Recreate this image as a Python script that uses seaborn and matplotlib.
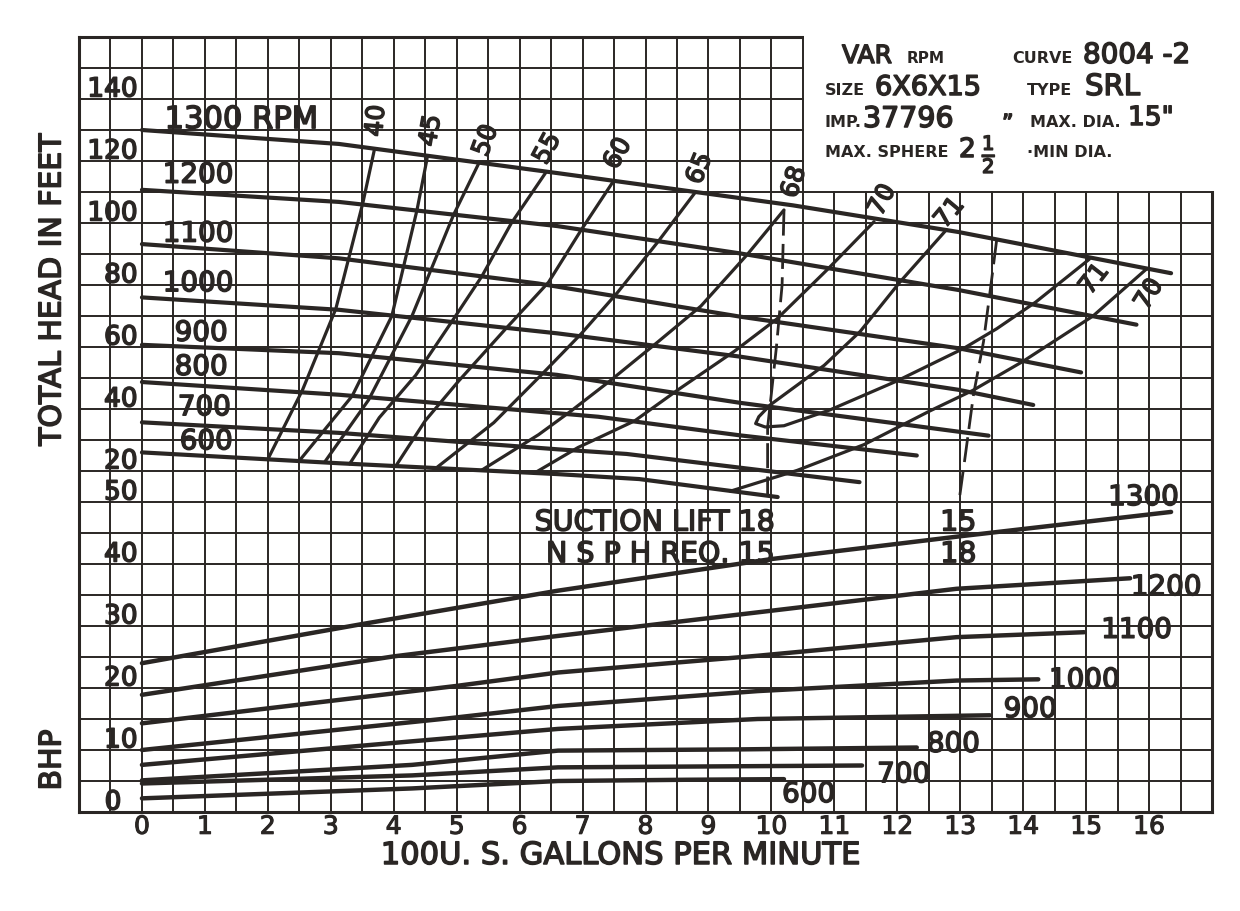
import matplotlib
matplotlib.use("Agg")
import matplotlib.pyplot as plt
import matplotlib.patheffects as pe
from matplotlib.patches import Rectangle
import numpy as np
import seaborn as sns

# ---------------- data ----------------
gpm_ticks = list(range(0, 17))
head_tick_values = [20, 40, 60, 80, 100, 120, 140]
bhp_tick_values = [0, 10, 20, 30, 40, 50]

# head-capacity curves (x: 100 US GPM, y: total head ft)
q_1300 = [0, 3.13, 6.6, 10.34, 12.97, 16.35]
h_1300 = [130, 125.5, 116.1, 105.7, 97.1, 83.8]
q_1200 = [0, 3.13, 6.6, 9.5, 12.97, 15.8]
h_1200 = [110.7, 106.8, 99.0, 90.2, 78.4, 67.2]
q_1100 = [0, 3.13, 6.29, 9.5, 12.97, 14.92]
h_1100 = [93.2, 88.6, 80.5, 69.8, 59.6, 51.8]
q_1000 = [0, 3.13, 6.6, 9.5, 12.97, 14.16]
h_1000 = [76.0, 72.0, 64.4, 56.9, 46.2, 41.3]
q_900 = [0, 3.13, 6.6, 9.5, 13.45]
h_900 = [60.7, 58.0, 51.0, 42.0, 31.4]
q_800 = [0, 3.13, 7.25, 9.5, 12.31]
h_800 = [48.7, 44.6, 37.5, 31.5, 25.0]
q_700 = [0, 3.13, 6.6, 7.7, 11.4]
h_700 = [35.7, 32.3, 27.0, 25.5, 16.4]
q_600 = [0, 3.13, 6.6, 7.9, 10.1]
h_600 = [26.0, 22.5, 19.0, 17.4, 11.6]

# iso-efficiency curves (percent)
e40_q = [3.69, 3.51, 3.08, 2.55, 2.0]
e40_h = [123.4, 106.5, 72.3, 46.1, 23.8]
e45_q = [4.53, 4.37, 3.97, 3.34, 2.5]
e45_h = [120.8, 104.2, 70.0, 44.2, 23.3]
e50_q = [5.35, 4.95, 4.29, 3.6, 2.9]
e50_h = [119.2, 102.6, 70.0, 42.9, 22.8]
e55_q = [6.42, 5.87, 5.4, 4.92, 4.35, 3.77, 3.3]
e55_h = [116.4, 100.0, 82.8, 68.1, 50.9, 37.2, 22.3]
e60_q = [7.5, 6.98, 6.46, 5.78, 5.03, 4.5, 4.03]
e60_h = [113.8, 97.8, 80.9, 65.9, 49.0, 36.2, 21.5]
e65_q = [8.78, 8.2, 7.56, 6.98, 6.34, 5.59, 4.67]
e65_h = [109.6, 94.0, 77.7, 64.3, 50.9, 35.6, 20.9]
e68_q = [10.2, 9.62, 8.88, 8.2, 7.45, 6.82, 6.3, 5.4]
e68_h = [104.2, 89.9, 73.2, 61.7, 49.3, 39.4, 31.7, 20.3]
e70l_q = [11.63, 10.89, 10.09, 9.41, 8.51, 7.83, 6.93, 6.25]
e70l_h = [100.4, 85.0, 69.1, 58.6, 46.1, 36.2, 27.6, 19.5]
e71_q = [12.78, 12.04, 11.41, 10.84, 9.98, 9.8, 9.75, 9.9, 10.2,
         10.93, 11.99, 13.05, 13.58, 14.2, 15.05]
e71_h = [97.8, 80.9, 65.0, 54.1, 41.3, 37.5, 35.3, 34.2, 34.6,
         39.7, 49.0, 59.5, 65.9, 74.5, 88.3]
e70r_q = [9.35, 10.41, 11.47, 12.52, 13.2, 14.0, 15.11, 15.95]
e70r_h = [13.5, 20.2, 28.5, 39.4, 46.0, 55.4, 70.0, 85.0]

# suction-lift / NPSH dashed lines
npsh18_q = [10.2, 10.17, 10.08, 10.0, 9.94, 9.94]
npsh18_h = [104.0, 80.0, 60.0, 45.0, 34.0, 12.0]
npsh15_q = [13.58, 13.5, 13.37, 13.21, 13.07, 12.99]
npsh15_h = [94.7, 81.9, 61.7, 44.5, 23.4, 11.6]

# brake horsepower curves
bq_1300 = [0, 3.49, 6.61, 10.0, 12.94, 16.35]
bhp_1300 = [24.0, 30.3, 35.7, 40.8, 44.4, 48.4]
bq_1200 = [0, 4.0, 6.61, 9.78, 12.94, 15.7]
bhp_1200 = [18.9, 25.1, 28.4, 32.2, 36.0, 37.7]
bq_1100 = [0, 4.97, 6.61, 9.78, 12.94, 14.97]
bhp_1100 = [14.3, 20.3, 22.5, 25.2, 28.2, 29.0]
bq_1000 = [0, 4.86, 6.61, 9.78, 12.94, 14.24]
bhp_1000 = [10.0, 15.1, 17.1, 19.5, 21.2, 21.4]
bq_900 = [0, 4.29, 6.61, 9.78, 13.47]
bhp_900 = [7.6, 11.4, 13.4, 15.0, 15.6]
bq_800 = [0, 4.29, 6.61, 9.5, 12.31]
bhp_800 = [5.1, 7.6, 9.9, 10.1, 10.4]
bq_700 = [0, 4.29, 6.61, 11.44]
bhp_700 = [4.6, 5.9, 7.2, 7.5]
bq_600 = [0, 4.29, 6.61, 8.65, 10.2]
bhp_600 = [2.2, 3.8, 5.0, 5.2, 5.3]

# ---------------- drawing ----------------
INK = "#2a2624"
sns.set_theme(style="white")
plt.rcParams["font.family"] = ["DejaVu Sans"]
plt.rcParams["text.color"] = INK

W, H = 1240, 911
fig = plt.figure(figsize=(W / 100, H / 100), dpi=100, facecolor="white")
L, R, B, T = 79, 1212, 812, 37
ax = fig.add_axes([L / W, 1 - B / H, (R - L) / W, (B - T) / H])
ax.set_facecolor("white")
axh = ax.twinx()

heavy = [pe.withStroke(linewidth=1.1, foreground=INK)]


def curve(axis, q, v, lw=2.9, **kw):
    sns.lineplot(x=q, y=v, ax=axis, color=INK, linewidth=lw, sort=False,
                 estimator=None, solid_capstyle="round",
                 solid_joinstyle="round", **kw)


# head curves
for q, h in [(q_1300, h_1300), (q_1200, h_1200), (q_1100, h_1100),
             (q_1000, h_1000), (q_900, h_900), (q_800, h_800),
             (q_700, h_700), (q_600, h_600)]:
    curve(axh, q, h, lw=3.0)

# efficiency curves
for q, h in [(e40_q, e40_h), (e45_q, e45_h), (e50_q, e50_h), (e55_q, e55_h),
             (e60_q, e60_h), (e65_q, e65_h), (e68_q, e68_h),
             (e70l_q, e70l_h), (e71_q, e71_h), (e70r_q, e70r_h)]:
    curve(axh, q, h, lw=2.3)

# dashed NPSH lines
for q, h in [(npsh18_q, npsh18_h), (npsh15_q, npsh15_h)]:
    sns.lineplot(x=q, y=h, ax=axh, color=INK, linewidth=2.0, sort=False,
                 estimator=None, linestyle=(0, (9, 3)))

# BHP curves
for q, b in [(bq_1300, bhp_1300), (bq_1200, bhp_1200), (bq_1100, bhp_1100),
             (bq_1000, bhp_1000), (bq_900, bhp_900), (bq_800, bhp_800),
             (bq_700, bhp_700), (bq_600, bhp_600)]:
    curve(ax, q, b, lw=3.2)

# scales
ax.set_xlim(-1, 17)
ax.set_ylim(0, 125)
axh.set_ylim(-90, 160)
ax.set_xlabel("")
ax.set_ylabel("")
axh.set_xlabel("")
axh.set_ylabel("")

ax.set_xticks(gpm_ticks)
ax.set_xticklabels([str(v) for v in gpm_ticks])
ax.set_xticks(np.arange(-1, 17.01, 0.5), minor=True)
ax.set_yticks(np.arange(0, 125.1, 5))
ax.set_yticklabels([])
ax.grid(True, which="both", color=INK, linewidth=1.4)
ax.tick_params(which="both", length=0)
ax.tick_params(axis="x", pad=2, labelsize=18, labelcolor=INK)
for lab in ax.get_xticklabels():
    lab.set_path_effects([pe.withStroke(linewidth=0.8, foreground=INK)])
for s in ax.spines.values():
    s.set_color(INK)
    s.set_linewidth(2.2)
axh.set_yticks([])
for s in axh.spines.values():
    s.set_visible(False)

# blank panel at top right for the title block
axh.add_patch(Rectangle((10.52, 110.4), 7.5, 60, facecolor="white",
                        edgecolor="none", clip_on=False, zorder=0.5))

# axis value labels
for v in head_tick_values:
    axh.text(-0.07, v + 0.8, str(v), ha="right", va="baseline",
             fontsize=19, path_effects=heavy)
for v in bhp_tick_values:
    if v == 0:
        ax.text(-0.46, v + 0.4, str(v), ha="center", va="baseline",
                fontsize=19, path_effects=heavy)
    else:
        ax.text(-0.07, v + 0.4, str(v), ha="right", va="baseline",
                fontsize=19, path_effects=heavy)

# speed labels on head curves
axh.text(0.36, 130.6, "1300 RPM", fontsize=22, va="baseline", path_effects=heavy)
for x, y, s in [(0.33, 113, "1200"), (0.33, 94, "1100"), (0.33, 78, "1000"),
                (0.52, 62, "900"), (0.52, 51, "800"), (0.57, 38, "700"),
                (0.6, 27, "600")]:
    axh.text(x, y, s, fontsize=20, va="baseline", path_effects=heavy)

# efficiency labels
for x, y, s, r in [(3.72, 133, "40", 85), (4.59, 129.8, "45", 80),
                   (5.46, 126.6, "50", 70), (6.44, 124, "55", 62),
                   (7.56, 122.4, "60", 61), (8.86, 117.6, "65", 68),
                   (10.36, 113.2, "68", 72), (11.76, 107.4, "70", 62),
                   (12.83, 103.3, "71", 50), (15.13, 81.9, "71", 52),
                   (16.0, 77.0, "70", 58)]:
    axh.text(x, y, s, fontsize=18, rotation=r, ha="center", va="center",
             rotation_mode="anchor", path_effects=heavy, zorder=6)

# suction lift notes
ax.text(10.05, 45.4, "SUCTION LIFT 18", fontsize=20.5, ha="right",
        va="baseline", path_effects=heavy)
ax.text(10.05, 40.3, "N S P H REQ. 15", fontsize=20.5, ha="right",
        va="baseline", path_effects=heavy)
ax.text(12.97, 45.4, "15", fontsize=20.5, ha="center", va="baseline",
        path_effects=heavy)
ax.text(12.97, 40.3, "18", fontsize=20.5, ha="center", va="baseline",
        path_effects=heavy)

# BHP curve labels
for x, y, s in [(15.35, 49.5, "1300"), (15.71, 35.0, "1200"),
                (15.24, 28.1, "1100"), (14.41, 20.0, "1000"),
                (13.69, 15.3, "900"), (12.47, 9.7, "800"),
                (11.68, 4.8, "700"), (10.17, 1.6, "600")]:
    ax.text(x, y, s, fontsize=20, va="baseline", path_effects=heavy)

# axis titles
fig.text(620 / W, 1 - 864 / H, "100U. S. GALLONS PER MINUTE", ha="center",
         va="baseline", fontsize=22, path_effects=heavy)
fig.text(52 / W, 1 - 290 / H, "TOTAL HEAD IN FEET", ha="center",
         va="center", rotation=90, fontsize=21.5, path_effects=heavy)
fig.text(52 / W, 1 - 760 / H, "BHP", ha="center", va="center",
         rotation=90, fontsize=21.5, path_effects=heavy)


# title block
def ft(px, py, s, size, bold=False):
    fig.text(px / W, 1 - py / H, s, fontsize=size, va="baseline",
             fontweight="bold" if bold else "normal",
             path_effects=None if bold else heavy)


ft(842, 63, "VAR", 18)
ft(907, 63, "RPM", 11, True)
ft(1012, 63, "CURVE", 11.5, True)
ft(1083, 63, "8004 -2", 20)
ft(825, 95, "SIZE", 11.5, True)
ft(875, 95, "6X6X15", 19.5)
ft(1027, 95, "TYPE", 11.5, True)
ft(1085, 95, "SRL", 21)
ft(825, 127, "IMP.", 11.5, True)
ft(863, 127, "37796", 20.5)
ft(1030, 127, "MAX. DIA.", 11.5, True)
ft(1128, 125, "15\"", 19)
ft(825, 157, "MAX. SPHERE", 11.5, True)
ft(959, 157, "2", 19)
ft(982, 162, r"$\frac{1}{2}$", 20)
ft(1002, 130, "\u201d", 16)
ft(1027, 157, "\u00b7MIN DIA.", 11.5, True)

fig.savefig("out.png", dpi=100, facecolor="white")
